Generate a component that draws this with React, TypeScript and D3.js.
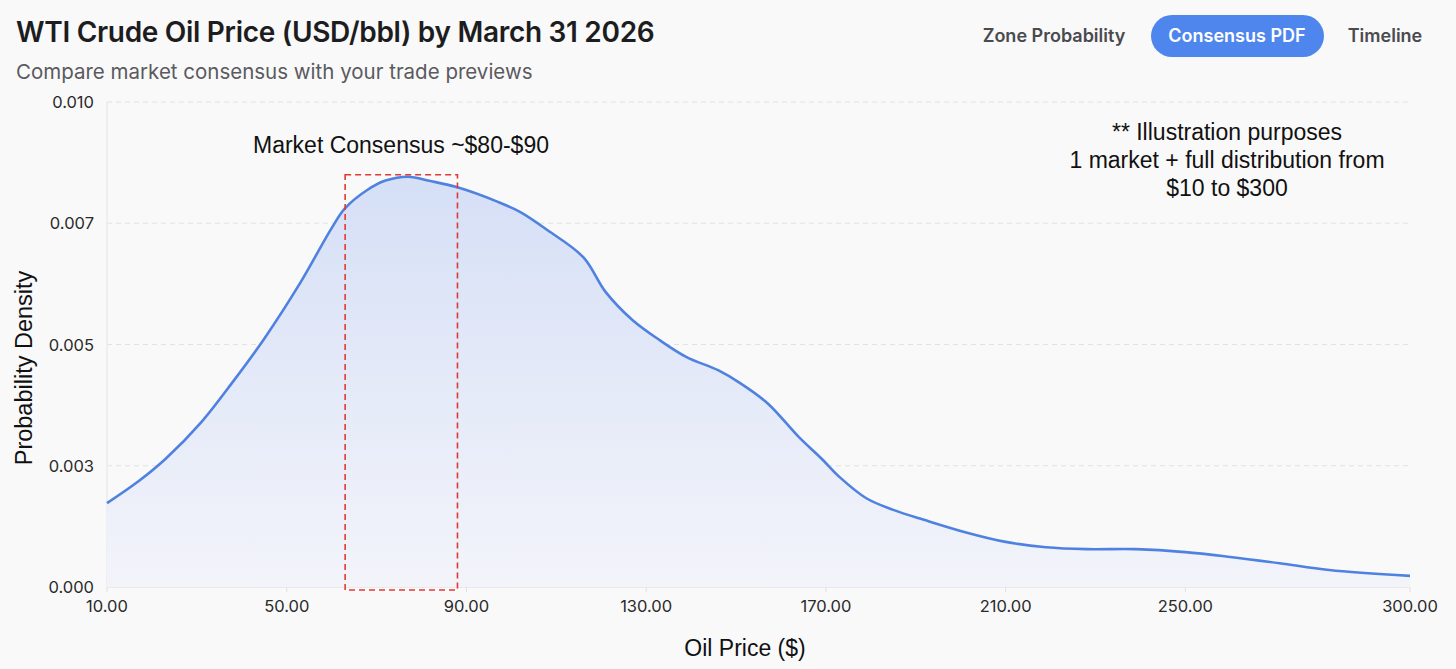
import React from "react";
import * as d3 from "d3";

const prices = [10, 17, 23, 31, 38, 45, 53, 60, 63, 68, 72, 77, 82, 88, 97, 102, 108, 116, 121, 127, 133, 139, 146, 151, 157, 164, 169, 173, 179, 185, 192, 201, 210, 219, 228, 239, 250, 260, 271, 282, 300];
const density = [0.00173, 0.00218, 0.00264, 0.0034, 0.00423, 0.00512, 0.00627, 0.0074, 0.00781, 0.00819, 0.00838, 0.00846, 0.00837, 0.00824, 0.00794, 0.00773, 0.00736, 0.0068, 0.00608, 0.0055, 0.00509, 0.00474, 0.00447, 0.0042, 0.00379, 0.00309, 0.00265, 0.00227, 0.00183, 0.00159, 0.00138, 0.00113, 0.00093, 0.00082, 0.00078, 0.00078, 0.00072, 0.00062, 0.00049, 0.00035, 0.00023];
const xTicks = [10, 50, 90, 130, 170, 210, 250, 300];
const yTicks = [0, 0.0025, 0.005, 0.0075, 0.01];
const tabs = ["Zone Probability", "Consensus PDF", "Timeline"];
const consensusBox = [63, 88];
const consensusTop = 0.0085;
const noteLines = ["** Illustration purposes", "1 market + full distribution from", "$10 to $300"];

const W = 1456, H = 669;
const M = { left: 107, right: 1410, top: 102, bottom: 587 };

export default function App() {
  const x = d3.scaleLinear().domain([10, 300]).range([M.left, M.right]);
  const y = d3.scaleLinear().domain([0, 0.01]).range([M.bottom, M.top]);
  const data = prices.map((p, i) => ({ p, d: density[i] }));
  const curve = d3.curveCatmullRom.alpha(0.5);
  const line = d3.line<any>().x((e) => x(e.p)).y((e) => y(e.d)).curve(curve);
  const area = d3.area<any>().x((e) => x(e.p)).y0(y(0)).y1((e) => y(e.d)).curve(curve);
  const fx = d3.format(".2f");
  const fy = d3.format(".3f");
  const tabCenters = [1054, 1237, 1385];
  const uiFont = "Inter, 'Open Sans', sans-serif";
  const arial = "'Liberation Sans', Arial, sans-serif";

  return (
    <div style={{ position: "fixed", left: 0, top: 0, width: W, height: H }}>
      <svg width={W} height={H} style={{ display: "block" }}>
        <defs>
          <linearGradient id="fillGrad" x1="0" y1="0" x2="0" y2="1">
            <stop offset="0%" stopColor="#d5dff6" />
            <stop offset="100%" stopColor="#f3f4fa" />
          </linearGradient>
        </defs>
        <rect width={W} height={H} fill="#f9f9f9" />
        <text x={16} y={42} fontFamily={uiFont} fontWeight={600} fontSize={28} fill="#1d1d1f" letterSpacing={-0.3}>
          WTI Crude Oil Price (USD/bbl) by March 31 2026
        </text>
        <text x={16} y={79} fontFamily={uiFont} fontSize={20.5} fill="#5a5a5f">
          Compare market consensus with your trade previews
        </text>
        <rect x={1151} y={15} width={173} height={42} rx={21} fill="#4f86ee" />
        {tabs.map((t, i) => (
          <text key={t} x={tabCenters[i]} y={42} textAnchor="middle" fontFamily={uiFont} fontWeight={600} fontSize={18} fill={i === 1 ? "#ffffff" : "#4a4a4f"}>
            {t}
          </text>
        ))}
        {yTicks.slice(1).map((t) => (
          <line key={t} x1={M.left} x2={M.right} y1={y(t)} y2={y(t)} stroke="#e2e2e2" strokeDasharray="5,4" />
        ))}
        <line x1={M.left} x2={M.left} y1={M.top} y2={M.bottom} stroke="#e4e4e4" />
        <line x1={M.left} x2={M.right} y1={M.bottom} y2={M.bottom} stroke="#e4e4e4" strokeWidth={1.5} />
        <path d={area(data) || ""} fill="url(#fillGrad)" />
        <path d={line(data) || ""} fill="none" stroke="#4f82e0" strokeWidth={2.6} />
        {xTicks.map((t) => (
          <g key={t}>
            <line x1={x(t)} x2={x(t)} y1={M.bottom} y2={M.bottom + 5} stroke="#e0e0e0" />
            <text x={x(t)} y={612} textAnchor="middle" fontFamily={uiFont} fontSize={16.5} fill="#2a2a2a">
              {fx(t)}
            </text>
          </g>
        ))}
        {yTicks.map((t) => (
          <text key={t} x={94} y={y(t) + 6} textAnchor="end" fontFamily={uiFont} fontSize={16.5} fill="#2a2a2a">
            {fy(t)}
          </text>
        ))}
        <rect
          x={x(consensusBox[0])}
          y={y(consensusTop)}
          width={x(consensusBox[1]) - x(consensusBox[0])}
          height={y(0) + 3 - y(consensusTop)}
          fill="none"
          stroke="#e03a33"
          strokeWidth={1.6}
          strokeDasharray="6,4"
        />
        <text x={401} y={153} textAnchor="middle" fontFamily={arial} fontSize={23} fill="#111">
          Market Consensus ~$80-$90
        </text>
        {noteLines.map((l, i) => (
          <text key={l} x={1227} y={140 + i * 28} textAnchor="middle" fontFamily={arial} fontSize={23} fill="#111">
            {l}
          </text>
        ))}
        <text transform={`translate(32,${368}) rotate(-90)`} textAnchor="middle" fontFamily={arial} fontSize={23.5} fill="#111">
          Probability Density
        </text>
        <text x={745} y={656} textAnchor="middle" fontFamily={arial} fontSize={23} fill="#111">
          Oil Price ($)
        </text>
      </svg>
    </div>
  );
}
